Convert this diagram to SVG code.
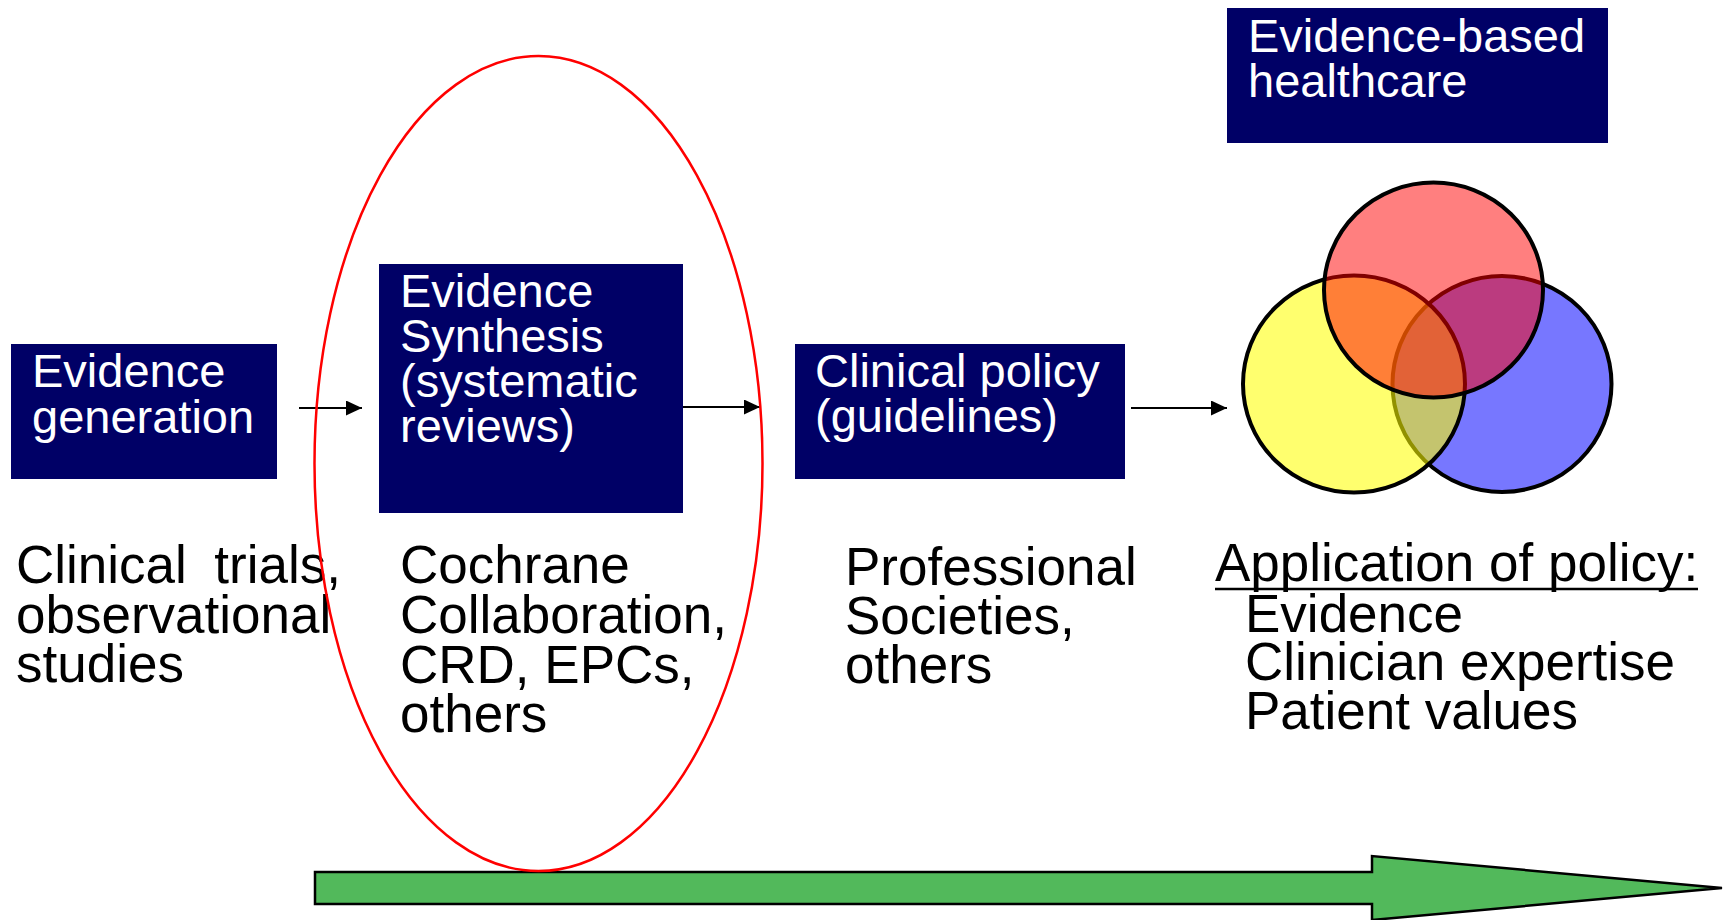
<svg xmlns="http://www.w3.org/2000/svg" width="1725" height="920" viewBox="0 0 1725 920">
<style>
.box{fill:#000066}
.bt{font-family:"Liberation Sans",Arial,sans-serif;font-size:47px;fill:#ffffff}
.tx{font-family:"Liberation Sans",Arial,sans-serif;font-size:53px;fill:#000000}
.conn{stroke:#000;stroke-width:2;fill:none}
.venn{stroke:#000;stroke-width:4}
</style>
<defs>
<marker id="ah" markerUnits="userSpaceOnUse" markerWidth="16" markerHeight="15" viewBox="0 0 16 15" refX="16" refY="7.5" orient="auto">
<path d="M0,0 L16,7.5 L0,15 z" fill="#000"/>
</marker>
</defs>
<rect width="1725" height="920" fill="#ffffff"/>

<g id="progress-arrow">
<path d="M315,872 L1372,872 L1372,856 L1722,888 L1372,920 L1372,904 L315,904 Z" fill="#52b95b" stroke="#000" stroke-width="2.5"/>
</g>

<g id="evidence-generation">
<rect class="box" x="11" y="344" width="266" height="135"/>
<text class="bt" x="32" y="387">Evidence</text>
<text class="bt" x="32" y="433">generation</text>
<text class="tx" x="16" y="583">Clinical</text>
<text class="tx" x="341" y="583" text-anchor="end">trials,</text>
<text class="tx" x="16" y="633">observational</text>
<text class="tx" x="16" y="682">studies</text>
</g>

<g id="evidence-synthesis">
<rect class="box" x="379" y="264" width="304" height="249"/>
<text class="bt" x="400" y="307">Evidence</text>
<text class="bt" x="400" y="352">Synthesis</text>
<text class="bt" x="400" y="397">(systematic</text>
<text class="bt" x="400" y="442">reviews)</text>
<text class="tx" x="400" y="583">Cochrane</text>
<text class="tx" x="400" y="633">Collaboration,</text>
<text class="tx" x="400" y="683">CRD, EPCs,</text>
<text class="tx" x="400" y="732">others</text>
</g>

<g id="clinical-policy">
<rect class="box" x="795" y="344" width="330" height="135"/>
<text class="bt" x="815" y="387">Clinical policy</text>
<text class="bt" x="815" y="432">(guidelines)</text>
<text class="tx" x="845" y="585">Professional</text>
<text class="tx" x="845" y="634">Societies,</text>
<text class="tx" x="845" y="683">others</text>
</g>

<g id="evidence-based-healthcare">
<rect class="box" x="1227" y="8" width="381" height="135"/>
<text class="bt" x="1248" y="52">Evidence-based</text>
<text class="bt" x="1248" y="97">healthcare</text>
<ellipse class="venn" cx="1502" cy="384" rx="109.5" ry="108" fill="#0000ff" fill-opacity="0.533"/>
<ellipse class="venn" cx="1354" cy="384" rx="111" ry="108.5" fill="#ffff00" fill-opacity="0.57"/>
<ellipse class="venn" cx="1433.5" cy="290" rx="109.5" ry="107.5" fill="#ff0000" fill-opacity="0.5"/>
<text class="tx" x="1215" y="581">Application of policy:</text>
<line x1="1215" y1="589" x2="1698" y2="589" stroke="#000" stroke-width="2.5"/>
<text class="tx" x="1245" y="632">Evidence</text>
<text class="tx" x="1245" y="680">Clinician expertise</text>
<text class="tx" x="1245" y="729">Patient values</text>
</g>

<g id="connectors">
<line class="conn" x1="299" y1="408" x2="362" y2="408" marker-end="url(#ah)"/>
<line class="conn" x1="683" y1="407" x2="760" y2="407" marker-end="url(#ah)"/>
<line class="conn" x1="1131" y1="408" x2="1227" y2="408" marker-end="url(#ah)"/>
</g>

<g id="highlight">
<ellipse cx="538.5" cy="463.5" rx="224" ry="407.5" fill="none" stroke="#ff0000" stroke-width="2.5"/>
</g>
</svg>
